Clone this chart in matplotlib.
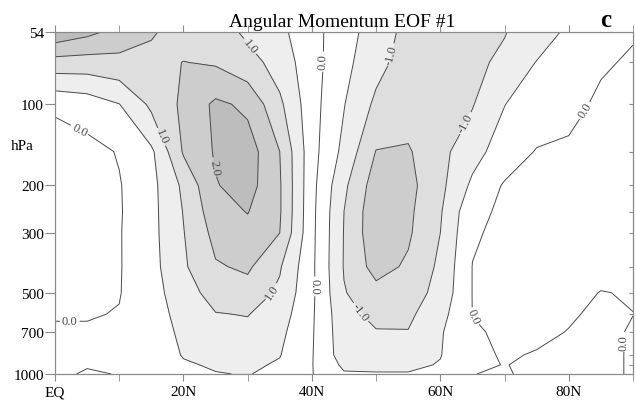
import matplotlib.pyplot as plt
import matplotlib.ticker as mticker
import numpy as np

plt.rcParams['font.family'] = ['Liberation Serif', 'DejaVu Serif']

# grid of the EOF pattern
lats = [0, 5, 10, 15, 20, 25, 30, 35, 40, 45, 50, 55, 60, 65, 70, 75, 80, 85, 90]
plevs = [54, 70, 100, 150, 200, 250, 300, 400, 500, 600, 700, 850, 925, 1000]

# one row per latitude, values from 54 hPa down to 1000 hPa
eof1 = [
    [2.35, 1.28, 0.06, -0.2, -0.2, -0.2, -0.2, -0.15, -0.1, -0.03, 0.05, 0.05, 0.05, 0.06],
    [2.12, 1.26, 0.2, -0.15, -0.2, -0.2, -0.2, -0.18, -0.1, -0.03, 0.05, 0.05, 0.02, -0.03],
    [1.85, 1.32, 0.49, 0.03, -0.03, -0.04, -0.03, -0.03, -0.02, 0.02, 0.05, 0.08, 0.05, 0.01],
    [1.55, 1.35, 1.1, 0.4, 0.35, 0.35, 0.35, 0.33, 0.3, 0.28, 0.25, 0.2, 0.15, 0.12],
    [1.3, 1.51, 1.6, 1.55, 1.1, 1.02, 0.98, 0.93, 0.79, 0.67, 0.6, 0.53, 0.45, 0.33],
    [1.25, 1.45, 2.1, 2.05, 1.97, 1.8, 1.65, 1.45, 1.19, 0.98, 0.83, 0.63, 0.55, 0.48],
    [0.9, 1.2, 1.9, 2.25, 2.2, 2.02, 1.83, 1.58, 1.29, 1.02, 0.87, 0.67, 0.58, 0.52],
    [0.62, 0.79, 1.1, 1.5, 1.55, 1.55, 1.5, 1.05, 0.9, 0.74, 0.62, 0.52, 0.45, 0.38],
    [0.17, 0.19, 0.19, 0.18, 0.15, 0.13, 0.12, 0.1, 0.1, 0.07, 0.05, 0.03, 0.02, 0.02],
    [-0.29, -0.35, -0.48, -0.64, -0.9, -1.0, -1.02, -1.03, -0.97, -0.85, -0.8, -0.75, -0.6, -0.45],
    [-0.74, -0.86, -1.1, -1.52, -1.75, -1.85, -1.85, -1.7, -1.31, -1.12, -0.97, -0.75, -0.6, -0.47],
    [-1.15, -1.2, -1.3, -1.55, -1.65, -1.6, -1.57, -1.42, -1.25, -1.1, -0.98, -0.75, -0.6, -0.47],
    [-1.2, -1.2, -1.15, -1.15, -1.13, -1.05, -1.0, -0.9, -0.83, -0.67, -0.55, -0.52, -0.47, -0.4],
    [-1.15, -1.1, -1.03, -0.67, -0.4, -0.12, -0.05, 0.01, 0.01, 0.005, -0.05, -0.08, -0.07, -0.005],
    [-1.02, -0.91, -0.51, -0.27, 0.05, 0.08, 0.1, 0.12, 0.12, 0.1, 0.07, 0.03, 0.01, 0.03],
    [-0.77, -0.48, -0.26, 0.03, 0.1, 0.13, 0.15, 0.15, 0.12, 0.1, 0.06, -0.02, -0.06, -0.08],
    [-0.4, -0.22, -0.08, 0.05, 0.1, 0.13, 0.15, 0.13, 0.1, 0.03, -0.01, -0.07, -0.08, -0.1],
    [-0.15, -0.03, 0.05, 0.08, 0.1, 0.12, 0.12, 0.1, -0.01, -0.05, -0.08, -0.1, -0.1, -0.1],
    [-0.02, 0.03, 0.06, 0.08, 0.1, 0.1, 0.08, 0.05, 0.02, -0.003, 0.03, 0.04, 0.04, 0.04],
]

fill_levels = [-3, -2.0, -1.5, -1.0, -0.5, 0.5, 1.0, 1.5, 2.0, 3]
plain_levels = [-2.0, -1.5, -0.5, 0.5, 1.5]
label_levels = [-1.0, 0.0, 1.0, 2.0]

xtick_vals = [0, 20, 40, 60, 80]
xtick_labels = ['EQ', '20N', '40N', '60N', '80N']
ytick_vals = [54, 100, 200, 300, 500, 700, 1000]
ytick_labels = ['54', '100', '200', '300', '500', '700', '1000']
right_ticks = [70, 100, 150, 200, 250, 300, 400, 500, 600, 700, 850, 925]

# where the labels sit (lat, hPa)
label_spots = [(30.3, 61), (16.8, 131), (34.0, 498), (24.6, 171),
               (3.9, 123), (2.3, 633), (42.0, 69), (40.2, 472),
               (51.9, 65), (63.6, 116), (47.2, 598),
               (81.3, 101), (64.6, 626), (88.8, 760)]

z = np.array(eof1).T

shades = ['#bdbdbd', '#cdcdcd', '#dedede', '#eeeeee', 'white',
          '#eeeeee', '#dedede', '#cdcdcd', '#bdbdbd']
edge = '#8a8a8a'

fig = plt.figure(figsize=(6.36, 4.10), dpi=100)
ax = fig.add_axes([55/636, 35/410, 578/636, 342/410])
ax.set_yscale('log')

ax.contourf(lats, plevs, z, levels=fill_levels, colors=shades)
ax.contour(lats, plevs, z, levels=plain_levels, colors='#4a4a4a',
           linewidths=0.7, linestyles='solid')
cs = ax.contour(lats, plevs, z, levels=label_levels, colors='#4a4a4a',
                linewidths=0.7, linestyles='solid')

ax.set_xlim(0, 90)
ax.set_ylim(1000, 54)

ax.clabel(cs, manual=label_spots, fmt='%.1f',
          fontsize=9, inline=True, inline_spacing=2)

ax.set_xticks(xtick_vals)
ax.set_xticklabels(xtick_labels)
ax.xaxis.set_minor_locator(mticker.MultipleLocator(10))
ax.tick_params(axis='x', which='both', direction='out', length=5, top=True,
               color=edge, labelsize=11, pad=3)
ax.yaxis.set_minor_locator(mticker.NullLocator())
ax.set_yticks(ytick_vals)
ax.set_yticklabels(ytick_labels)
ax.tick_params(axis='y', which='both', direction='out', length=7, right=False,
               color=edge, labelsize=11, pad=1)

ax2 = ax.twinx()
ax2.set_yscale('log')
ax2.set_ylim(1000, 54)
ax2.yaxis.set_minor_locator(mticker.NullLocator())
ax2.set_yticks(right_ticks)
ax2.tick_params(axis='y', direction='in', length=3, color=edge,
                labelright=False)

for a in (ax, ax2):
    for s in a.spines.values():
        s.set_color(edge)
        s.set_linewidth(0.8)

fig.text(22/636, 1 - 147/410, 'hPa', ha='center', va='center', fontsize=11)
fig.text(342/636, 1 - 27/410, 'Angular Momentum EOF #1', ha='center',
         va='baseline', fontsize=14)
fig.text(606/636, 1 - 27/410, 'c', ha='center', va='baseline',
         fontsize=18, fontweight='bold')

fig.savefig('out.png', dpi=100)
